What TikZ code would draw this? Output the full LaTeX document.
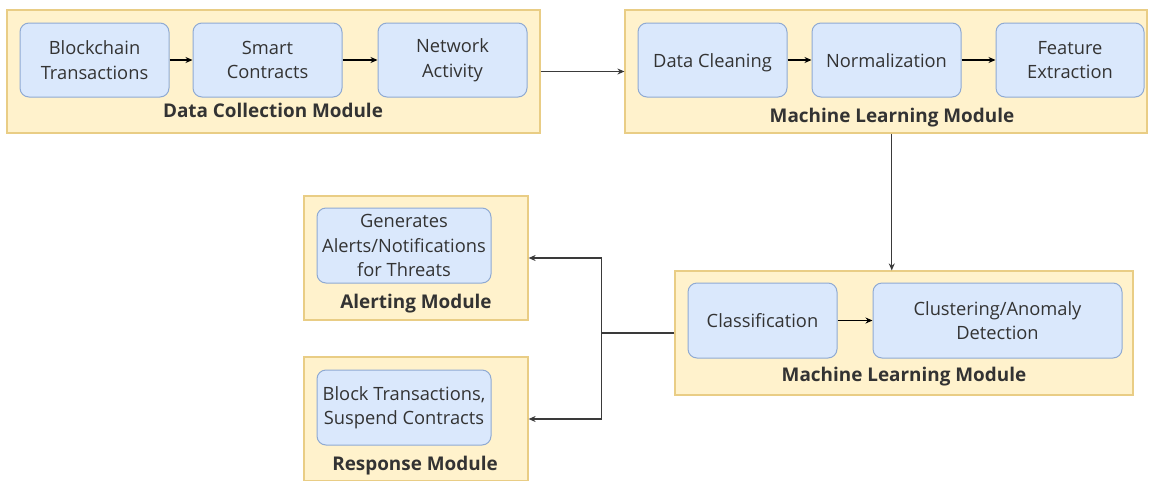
\documentclass[tikz,border=0pt]{standalone}
\usepackage{fontspec}
\setmainfont{Open Sans}
\usetikzlibrary{arrows.meta,calc}
\definecolor{modfill}{HTML}{FFF2CC}
\definecolor{moddraw}{HTML}{E9CD85}
\definecolor{boxfill}{HTML}{DAE8FC}
\definecolor{boxdraw}{HTML}{8FAAD3}
\definecolor{txt}{HTML}{333333}
\definecolor{wire}{HTML}{3A3A3A}
\tikzset{
  module/.style={rectangle, fill=modfill, draw=moddraw, line width=1.2pt, inner sep=0pt},
  stage/.style={rectangle, rounded corners=9pt, fill=boxfill, draw=boxdraw, line width=1pt,
    align=center, text=txt, inner sep=0pt, font=\fontsize{18.3}{24.5}\selectfont},
  oneline/.style={text height=14pt, text depth=0pt},
  modlabel/.style={font=\fontsize{18.9}{21}\selectfont\bfseries, text=txt, inner sep=0pt},
  flow/.style={-{Stealth[length=7pt,width=6pt]}, line width=1.4pt, black},
  link/.style={-{Stealth[length=7pt,width=6pt]}, line width=1.2pt, wire},
  plain/.style={line width=1.2pt, wire}
}
\begin{document}
\begin{tikzpicture}[x=1pt,y=-1pt]
\clip (0,0) rectangle (1149,480);
\fill[white] (0,0) rectangle (1149,480);

% data collection
\node[module, minimum width=533pt, minimum height=123pt] (dcm) at (273.5,71.5) {};
\node[stage, minimum width=149pt, minimum height=74pt] (bt) at (94.5,60) {Blockchain\\Transactions};
\node[stage, minimum width=149pt, minimum height=74pt] (sc) at (267.5,60) {Smart\\Contracts};
\node[stage, minimum width=149pt, minimum height=74pt] (na) at (452.5,60) {Network\\Activity};
\node[modlabel] (dcmlab) at (273,110) {Data Collection Module};

% preprocessing
\node[module, minimum width=522pt, minimum height=123pt] (pre) at (886,71.5) {};
\node[stage, oneline, minimum width=149pt, minimum height=74pt] (dc) at (712.5,60) {Data Cleaning};
\node[stage, oneline, minimum width=149pt, minimum height=74pt] (nm) at (886.5,60) {Normalization};
\node[stage, minimum width=148pt, minimum height=74pt] (fe) at (1070,60) {Feature\\Extraction};
\node[modlabel] (prelab) at (892,118) {Machine Learning Module};

% learning
\node[module, minimum width=458pt, minimum height=124pt] (ml) at (904,333) {};
\node[stage, oneline, minimum width=149pt, minimum height=75pt] (cl) at (762.5,320.5) {Classification};
\node[stage, minimum width=249pt, minimum height=75pt] (ad) at (997.5,320.5) {Clustering/Anomaly\\Detection};
\node[modlabel] (mllab) at (904,377) {Machine Learning Module};

% alerting
\node[module, minimum width=224pt, minimum height=124pt] (alm) at (416,258) {};
\node[stage, minimum width=174pt, minimum height=75pt] (ga) at (404,245.5) {Generates\\Alerts/Notifications\\for Threats};
\node[modlabel] (almlab) at (416,304) {Alerting Module};

% response
\node[module, minimum width=224pt, minimum height=124pt] (rsm) at (416,419) {};
\node[stage, minimum width=174pt, minimum height=75pt] (bk) at (404,407.5) {Block Transactions,\\Suspend Contracts};
\node[modlabel] (rsmlab) at (415,466) {Response Module};

% arrows inside modules
\draw[flow] (bt) -- (sc);
\draw[flow] (sc) -- (na);
\draw[flow] (dc) -- (nm);
\draw[flow] (nm) -- (fe);
\draw[flow] (cl) -- (ad);

% arrows between modules
\draw[link] (dcm.east) -- (pre.west);
\coordinate (down) at ($(pre.south west)!0.511!(pre.south east)$);
\draw[link] (down) -- (down |- ml.north);
\draw[plain] (ml.west) -- ++(-73,0) coordinate (split);
\draw[link] (split) |- (alm.east);
\draw[link] (split) |- (rsm.east);
\end{tikzpicture}
\end{document}
